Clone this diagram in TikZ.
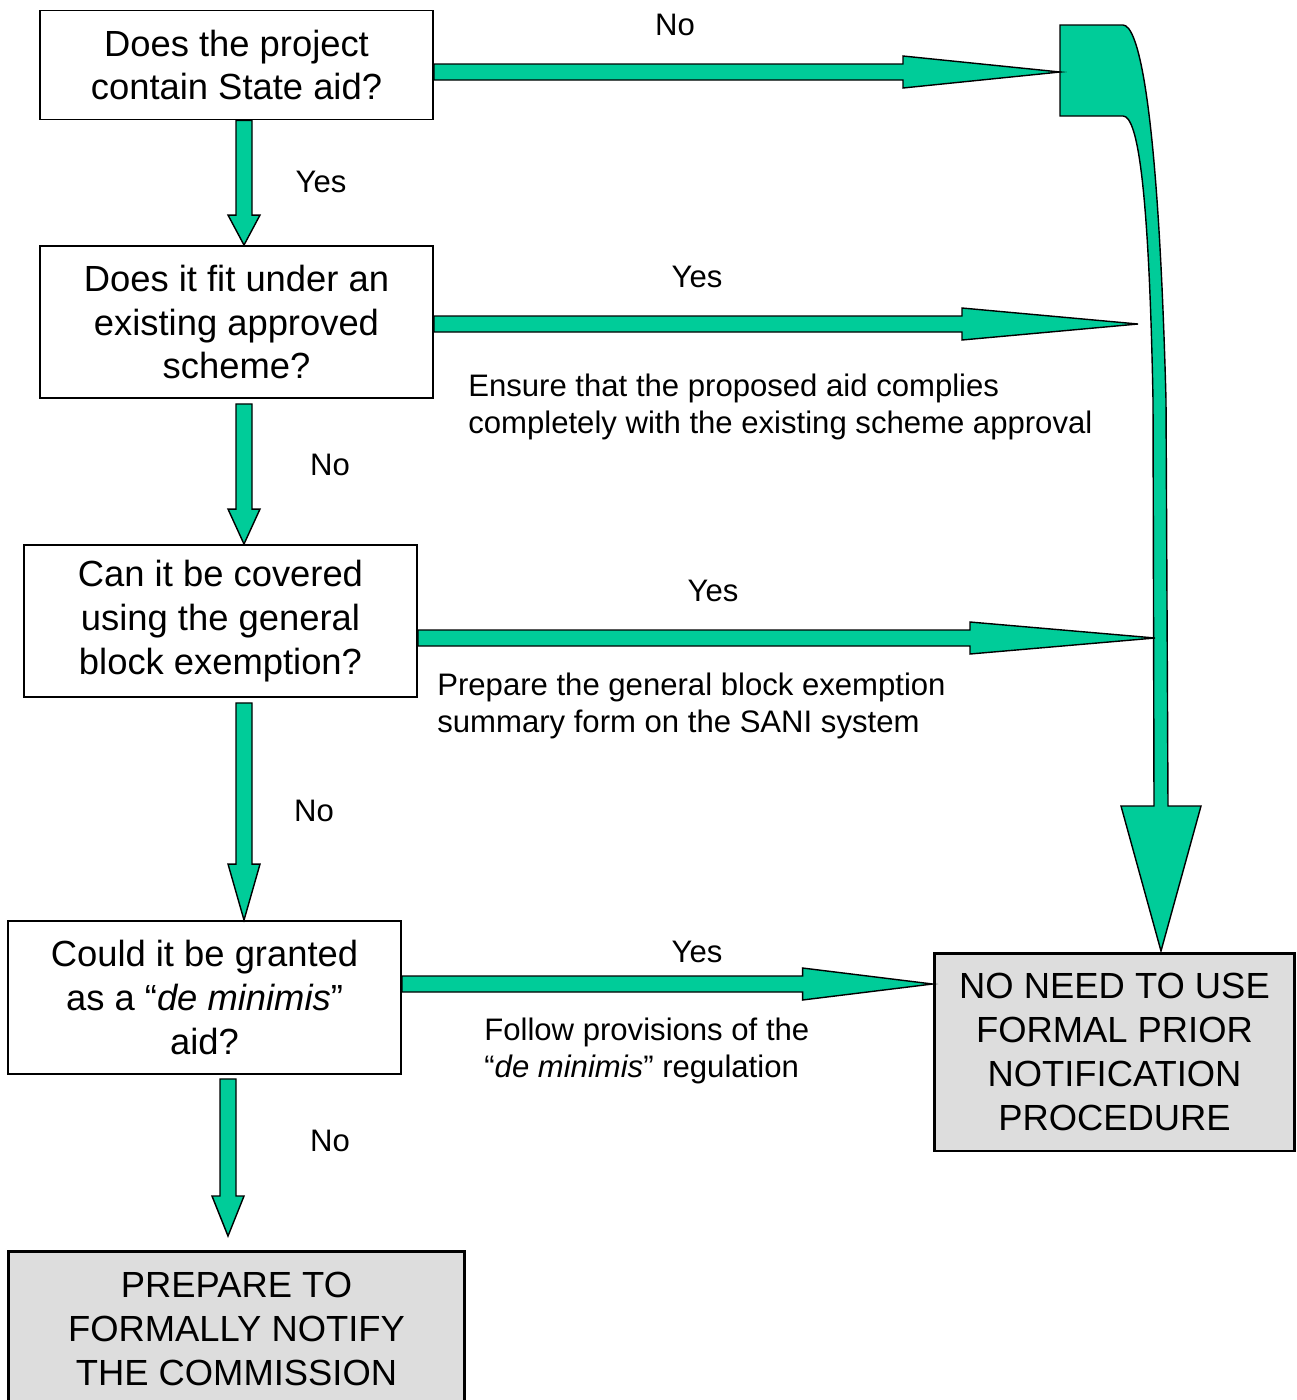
\documentclass[tikz,border=0pt]{standalone}
\usepackage{fontspec}
\setmainfont{Liberation Sans}
\usetikzlibrary{calc}

\definecolor{aidgreen}{HTML}{00CC99}
\definecolor{boxgrey}{HTML}{DDDDDD}

% block arrows: from, to, head length
\newcommand{\rightblock}[3]{%
  \draw[blockarrow] ($(#1)+(0,-8)$) -- ($(#2)+(-#3,-8)$) -- ($(#2)+(-#3,-16)$) -- (#2)
    -- ($(#2)+(-#3,16)$) -- ($(#2)+(-#3,8)$) -- ($(#1)+(0,8)$) -- cycle;}
\newcommand{\downblock}[3]{%
  \draw[blockarrow] ($(#1)+(-8,0)$) -- ($(#2)+(-8,-#3)$) -- ($(#2)+(-16,-#3)$) -- (#2)
    -- ($(#2)+(16,-#3)$) -- ($(#2)+(8,-#3)$) -- ($(#1)+(8,0)$) -- cycle;}

\begin{document}
\begin{tikzpicture}[x=0.02cm, y=-0.02cm,
    question/.style={draw, line width=1.1pt, fill=white, align=center, inner sep=0pt,
      font=\fontsize{20.7}{24.9}\selectfont},
    outcome/.style={question, fill=boxgrey, line width=1.7pt},
    answer/.style={inner sep=0pt, font=\fontsize{17.7}{21}\selectfont},
    note/.style={answer, anchor=west, align=left},
    blockarrow/.style={draw=black, fill=aidgreen, line width=0.8pt, line join=miter}]
    \useasboundingbox (0,0) rectangle (1296,1400);
    \clip (0,0) rectangle (1296,1400);

    \node[question, minimum width=7.86cm, minimum height=2.18cm] at (236.5, 65) (q1) {Does the project\\contain State aid?};
    \node[question, minimum width=7.86cm, minimum height=3.04cm] at (236.5, 322) (q2) {Does it fit under an\\existing approved\\scheme?};
    \node[question, minimum width=7.86cm, minimum height=3.04cm] at (220.5, 621) (q3) {Can it be covered\\using the general\\block exemption?};
    \node[question, minimum width=7.86cm, minimum height=3.06cm] at (204.5, 997.5) (q4) {Could it be granted\\as a “\textit{de minimis}”\\aid?};
    \node[outcome, minimum width=9.14cm, minimum height=3.12cm] at (236.5, 1329) (notify) {PREPARE TO\\FORMALLY NOTIFY\\THE COMMISSION};
    \node[outcome, minimum width=7.22cm, minimum height=3.96cm] at (1114.5, 1052) (noneed) {NO NEED TO USE\\FORMAL PRIOR\\NOTIFICATION\\PROCEDURE};

    \coordinate (notip) at (1060, 72);
    \coordinate (schemetip) at (1138, 324);
    \coordinate (gbertip) at (1155, 638);
    \coordinate (bigtip) at (1161, 951);
    \coordinate (d4tip) at (228, 1236);

    % collecting arrow on the right
    \draw[blockarrow] (1060,25) -- (1123,25) .. controls (1138,25) and (1158,100) .. (1166,400)
      -- (1168,806) -- (1201,806) -- (bigtip) -- (1121,806) -- (1154,806)
      -- (1153,400) .. controls (1149,190) and (1138,116) .. (1123,116) -- (1060,116) -- cycle;

    \rightblock{q1.east |- notip}{notip}{157}
    \rightblock{q2.east |- schemetip}{schemetip}{176}
    \rightblock{q3.east |- gbertip}{gbertip}{185}
    \rightblock{q4.east |- {0,984}}{noneed.west |- {0,984}}{130}

    \downblock{$(q1.south)+(7.5,0)$}{$(q2.north)+(7.5,0)$}{30}
    \downblock{$(q2.south)+(7.5,5)$}{$(q3.north)+(23.5,0)$}{35}
    \downblock{$(q3.south)+(23.5,5)$}{$(q4.north)+(39.5,0)$}{56}
    \downblock{$(q4.south)+(23.5,4)$}{d4tip}{40}

    \node[answer] at (675, 25) (no1) {No};
    \node[answer] at (321, 182) (yes1) {Yes};
    \node[answer] at (697, 277) (yes2) {Yes};
    \node[answer] at (330, 465) (no2) {No};
    \node[answer] at (713, 591) (yes3) {Yes};
    \node[answer] at (314, 811) (no3) {No};
    \node[answer] at (697, 952) (yes4) {Yes};
    \node[answer] at (330, 1141) (no4) {No};

    \node[note] at (468, 407) (ensure) {Ensure that the proposed aid complies\\completely with the existing scheme approval};
    \node[note] at (437, 706) (gber) {Prepare the general block exemption\\summary form on the SANI system};
    \node[note] at (484, 1051) (deminimis) {Follow provisions of the\\“\textit{de minimis}” regulation};
\end{tikzpicture}
\end{document}
